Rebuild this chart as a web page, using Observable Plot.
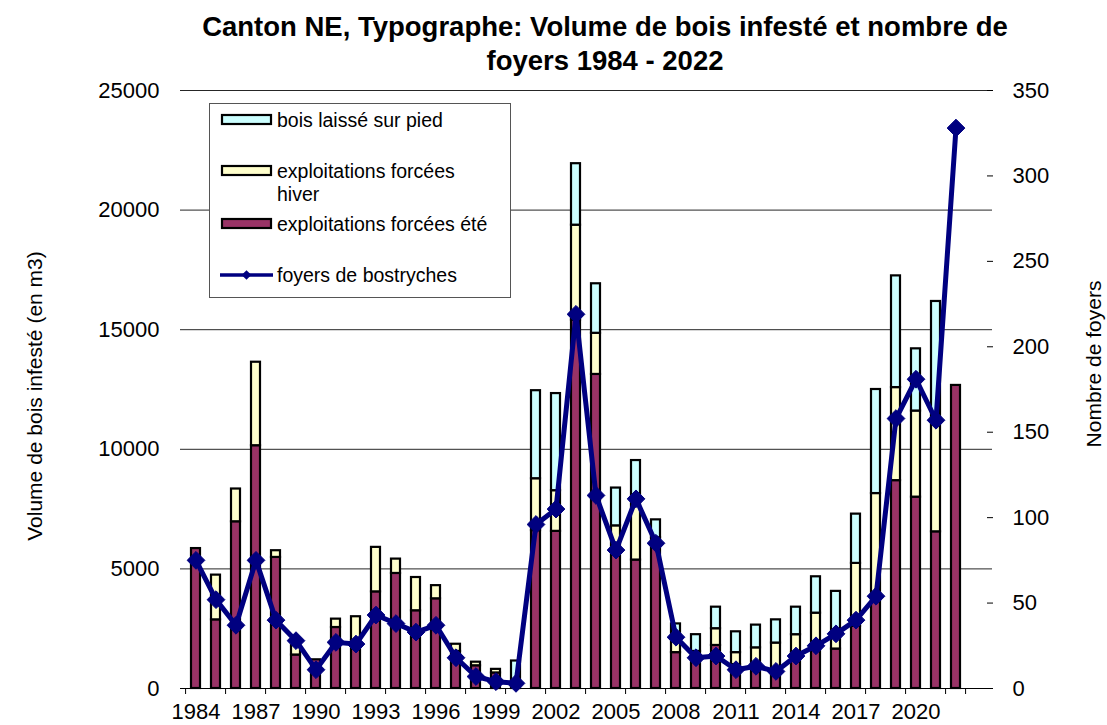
<!DOCTYPE html>
<html>
<head>
<meta charset="utf-8">
<script src="https://cdn.jsdelivr.net/npm/d3@7"></script>
<script src="https://cdn.jsdelivr.net/npm/@observablehq/plot@0.6"></script>
<style>
  html, body { margin: 0; padding: 0; background: #fff; }
  body { font-family: "Liberation Sans", Arial, sans-serif; }
  #wrap { position: relative; width: 1107px; height: 725px; overflow: hidden; }
  #title { position: absolute; left: 155px; width: 900px; top: 10px; text-align: center;
           font-weight: bold; font-size: 27.5px; line-height: 34px; color: #000; }
  #chart { position: absolute; left: 0; top: 80px; }
  .ylab { position: absolute; font-size: 21px; white-space: nowrap; color: #000; }
  #legend { position: absolute; left: 209px; top: 103px; }
</style>
</head>
<body>
<div id="wrap">
  <div id="title">Canton NE, Typographe: Volume de bois infesté et nombre de<br>foyers 1984 - 2022</div>
  <div id="chart"></div>
  <div class="ylab" id="ylabL">Volume de bois infesté (en m3)</div>
  <div class="ylab" id="ylabR">Nombre de foyers</div>
  <div id="legend"></div>
</div>
<script>
const years = d3.range(1984, 2023);
const summer = [5850,2870,6970,10150,5480,1400,1200,2550,2000,4040,
                4810,3250,3750,1550,950,650,300,6600,6570,15400,
                13130,5800,5370,6300,1500,1300,1800,1000,1000,700,
                1500,1650,1650,2600,3700,8690,8000,6550,12670];
const winter = [0,1870,1370,3490,280,400,0,350,1000,1860,
                600,1390,550,300,150,150,0,2170,1700,3970,
                1720,1000,2630,0,600,250,700,500,700,1200,
                750,1500,550,2630,4450,3890,3600,4750,0];
const standing = [0,0,0,0,0,0,0,0,0,0,
                  0,0,0,0,0,0,850,3680,4060,2570,
                  2070,1580,1530,750,600,700,900,870,950,970,
                  1150,1520,1860,2060,4350,4670,2600,4880,0];
const foyers = [75,52,37,75,40,28,11,27,26,43,
                38,33,37,18,7,4,3,96,105,219,
                113,81,111,85,30,18,19,11,13,10,
                19,25,32,40,54,158,181,157,328];
const seriesNames = ["exploitations forcées été", "exploitations forcées hiver", "bois laissé sur pied"];
const seriesColors = ["#993366", "#FFFFCC", "#CCFFFF"];
const lineName = "foyers de bostryches";
const lineColor = "#000080";
const leftTicks = [0, 5000, 10000, 15000, 20000, 25000];
const rightTicks = [0, 50, 100, 150, 200, 250, 300, 350];
const labelYears = years.filter((y, i) => i % 3 === 0);
const tickYears = years.filter((y, i) => i % 2 === 0).concat([2023]);

const yMax = 25000, rMax = 350, k = yMax / rMax;

const bars = [];
years.forEach((yr, i) => {
  [summer[i], winter[i], standing[i]].forEach((v, s) => {
    bars.push({year: yr, series: seriesNames[s], order: s, value: v});
  });
});
const foyerData = years.map((yr, i) => ({year: yr, n: foyers[i]}));

const W = 1107, H = 645;
const mL = 180, mR = 115, mT = 10, mB = 37;
const step = (W - mL - mR) / years.length;

const chart = Plot.plot({
  width: W, height: H,
  marginLeft: mL, marginRight: mR, marginTop: mT, marginBottom: mB,
  style: {fontFamily: "'Liberation Sans', Arial, sans-serif", background: "#fff", overflow: "visible"},
  x: {type: "band", domain: [...years, 2023], paddingInner: 0.54, paddingOuter: 0.27, axis: null, label: null},
  y: {domain: [0, yMax], axis: null, label: null},
  color: {domain: seriesNames, range: seriesColors},
  marks: [
    Plot.ruleY(leftTicks.filter(d => d > 0), {stroke: "#000", strokeWidth: 1, strokeOpacity: 0.85}),
    Plot.barY(bars.filter(d => d.value > 0), Plot.stackY({
      x: "year", y: "value", fill: "series", order: seriesNames,
      stroke: "#000", strokeWidth: 2.2
    })),
    Plot.ruleY([0], {stroke: "#000", strokeWidth: 1}),
    Plot.line(foyerData, {x: "year", y: d => d.n * k, stroke: lineColor, strokeWidth: 5, strokeLinejoin: "miter"}),
    Plot.dot(foyerData, {x: "year", y: d => d.n * k, symbol: "diamond2", r: 8, fill: lineColor, stroke: lineColor, strokeWidth: 1}),
    Plot.axisY({ticks: leftTicks, tickSize: 0, tickPadding: 21, fontSize: 22, label: null, tickFormat: d => String(d)}),
    Plot.axisY({anchor: "right", ticks: rightTicks.map(v => v * k), tickSize: 0, tickPadding: 20, fontSize: 22, label: null,
                tickFormat: v => String(Math.round(v / k))}),
    Plot.axisY({anchor: "right", ticks: rightTicks.map(v => v * k), tickSize: 6, dx: -6, label: null, tickFormat: () => "", stroke: "#000"}),
    Plot.axisX({ticks: labelYears, tickSize: 0, tickPadding: 15, fontSize: 22, label: null, tickFormat: d => String(d)}),
    Plot.axisX({ticks: tickYears, tickSize: 6, dx: -step / 2, label: null, tickFormat: () => "", stroke: "#000"})
  ]
});
document.getElementById("chart").appendChild(chart);

const L = document.getElementById("ylabL");
L.style.left = "35px"; L.style.top = "396px";
L.style.transform = "translate(-50%, -50%) rotate(-90deg)";
const R = document.getElementById("ylabR");
R.style.left = "1094px"; R.style.top = "364px";
R.style.transform = "translate(-50%, -50%) rotate(-90deg)";

const legendItems = [
  {type: "rect", color: seriesColors[2], lines: [seriesNames[2]], y: 17},
  {type: "rect", color: seriesColors[1], lines: ["exploitations forcées", "hiver"], y: 68},
  {type: "rect", color: seriesColors[0], lines: [seriesNames[0]], y: 121},
  {type: "line", color: lineColor, lines: [lineName], y: 172}
];
const lg = d3.select("#legend").append("svg").attr("width", 303).attr("height", 196)
  .style("font-family", "'Liberation Sans', Arial, sans-serif");
lg.append("rect").attr("x", 0.5).attr("y", 0.5).attr("width", 301).attr("height", 194)
  .attr("fill", "#fff").attr("stroke", "#555").attr("stroke-width", 1);
legendItems.forEach(it => {
  if (it.type === "rect") {
    lg.append("rect").attr("x", 13).attr("y", it.y - 5).attr("width", 49).attr("height", 9)
      .attr("fill", it.color).attr("stroke", "#000").attr("stroke-width", 2.2);
  } else {
    lg.append("line").attr("x1", 11).attr("x2", 64).attr("y1", it.y).attr("y2", it.y)
      .attr("stroke", it.color).attr("stroke-width", 3.5);
    lg.append("path").attr("d", d3.symbol(d3.symbolDiamond2, 60)()).attr("transform", `translate(37.5,${it.y})`)
      .attr("fill", it.color);
  }
  it.lines.forEach((t, j) => {
    lg.append("text").attr("x", 68).attr("y", it.y + 7 + j * 23).attr("font-size", 19.5).attr("fill", "#000").text(t);
  });
});
</script>
</body>
</html>
